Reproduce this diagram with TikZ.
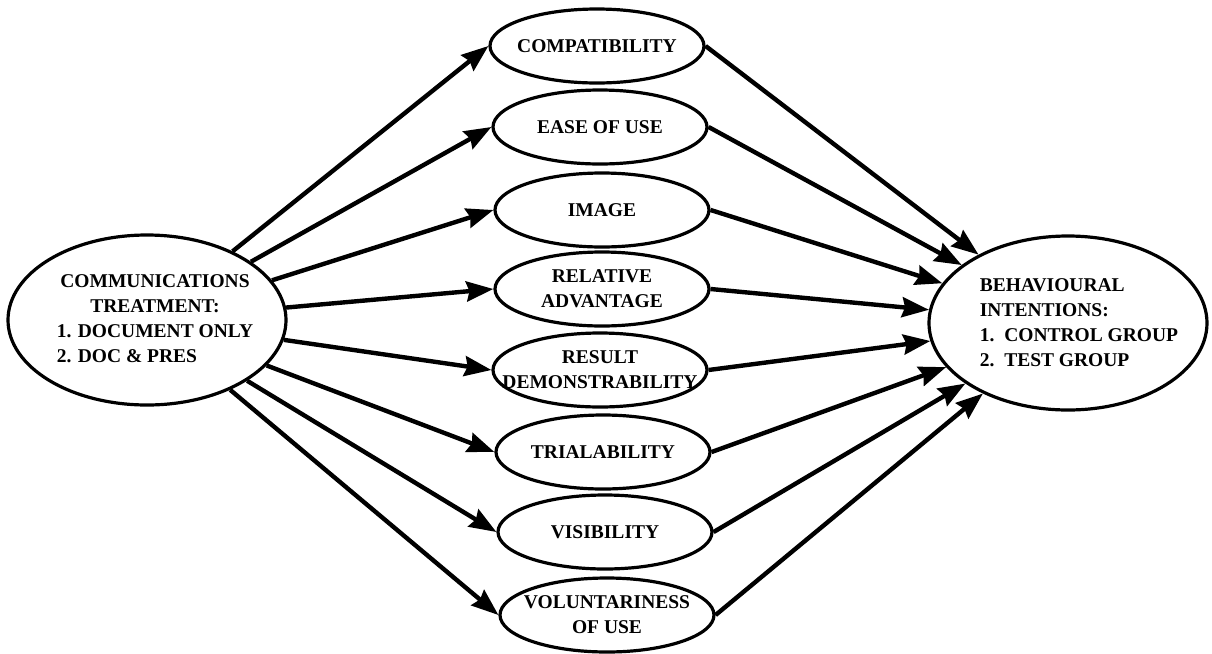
\documentclass[tikz,border=0pt]{standalone}
\usepackage{fontspec}
\setmainfont{Liberation Serif}
\usetikzlibrary{shapes.geometric,arrows.meta}
\begin{document}
\begin{tikzpicture}
  [x=0.5pt,y=-0.5pt,
   every node/.style={ellipse,draw,line width=1.6pt,inner sep=0pt},
   every label/.style={draw=none,rectangle,align=center,
     font=\bfseries\fontsize{9.75}{12.5}\selectfont}]
  \tikzstyle{factor} = [minimum width=107pt,minimum height=37pt]
  \tikzstyle{arrow} = [line width=2.2pt,-{Stealth[length=13.5pt,width=10pt,inset=1.5pt]}]
  \useasboundingbox (0,0) rectangle (1212,654);
  \node[minimum width=139pt,minimum height=85pt,
    label={[xshift=4pt]center:\begin{tabular}{@{}l@{}}
      \multicolumn{1}{@{}c@{}}{COMMUNICATIONS}\\
      \multicolumn{1}{@{}c@{}}{TREATMENT:}\\
      1. DOCUMENT ONLY\\
      2. DOC \& PRES\end{tabular}}] (L) at (147,320) {};
  \node[minimum width=139pt,minimum height=87pt,
    label={[xshift=5.5pt,align=left]center:BEHAVIOURAL\\
      INTENTIONS:\\
      1.\ \ CONTROL GROUP\\
      2.\ \ TEST GROUP}] (R) at (1068,323) {};
  \node[factor,label=center:COMPATIBILITY] (m1) at (597,46) {};
  \node[factor,label=center:EASE OF USE] (m2) at (600,127) {};
  \node[factor,label=center:IMAGE] (m3) at (602,210) {};
  \node[factor,label={center:RELATIVE\\ADVANTAGE}] (m4) at (602,289) {};
  \node[factor,label={center:RESULT\\DEMONSTRABILITY}] (m5) at (600,370) {};
  \node[factor,label=center:TRIALABILITY] (m6) at (603,452) {};
  \node[factor,label=center:VISIBILITY] (m7) at (605,532) {};
  \node[factor,label={center:VOLUNTARINESS\\OF USE}] (m8) at (607,615) {};
\foreach \n in {1,...,8}
   \draw[arrow] (L) -- (m\n.west);
\foreach \n in {1,...,8}
   \draw[arrow] (m\n.east) -- (R);

\end{tikzpicture}
\end{document}
